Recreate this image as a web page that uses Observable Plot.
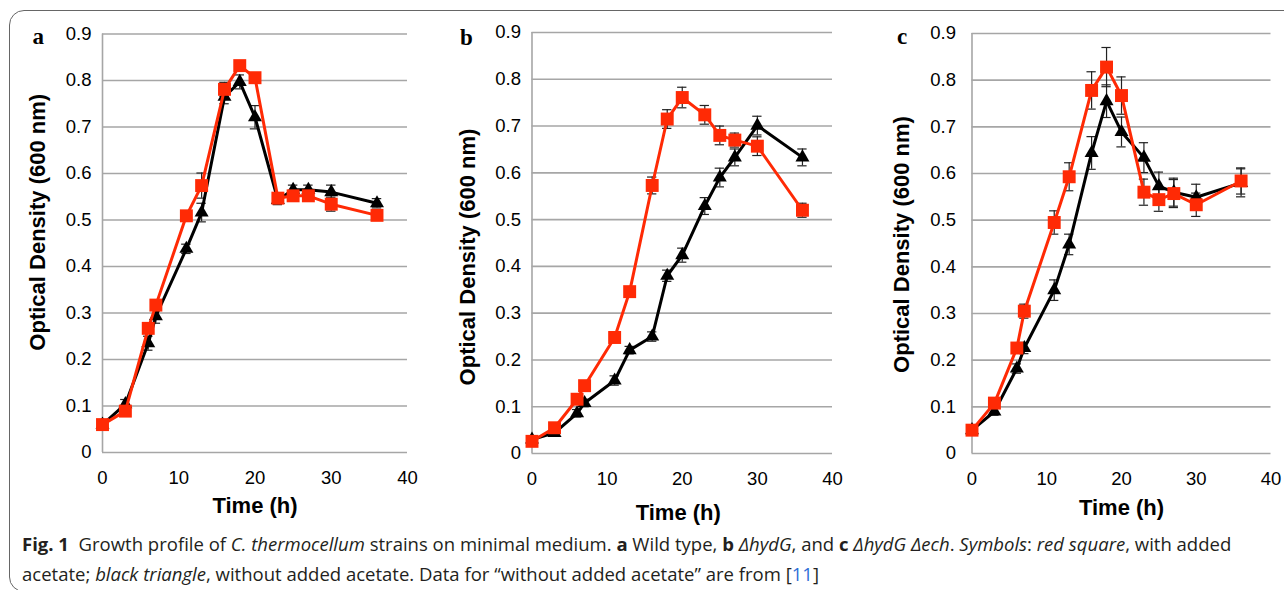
<!DOCTYPE html>
<html>
<head>
<meta charset="utf-8">
<script src="https://cdn.jsdelivr.net/npm/d3@7"></script>
<script src="https://cdn.jsdelivr.net/npm/@observablehq/plot@0.6"></script>
<style>
  html, body { margin: 0; padding: 0; background: #fff; }
  #root { position: relative; width: 1284px; height: 590px; overflow: hidden; background: #fff; }
  #frame { position: absolute; left: 9px; top: 10px; width: 1400px; height: 582px; box-sizing: border-box;
           border: 1.5px solid #666; border-radius: 15px; }
  .panel { position: absolute; top: 0; }
  #caption { position: absolute; left: 22px; top: 529px; font-family: "Open Sans", "Noto Sans", sans-serif;
             font-size: 18px; line-height: 30px; color: #231f20; white-space: nowrap; }
  #caption b { font-weight: 700; }
  #caption .ref { color: #2f6fd6; }
  #caption .line { display: inline-block; }
</style>
</head>
<body>
<div id="root">
  <div id="frame"></div>
  <div id="caption"><span class="line" id="cap1"><b>Fig. 1</b>&nbsp; Growth profile of <i>C. thermocellum</i> strains on minimal medium. <b>a</b> Wild type, <b>b</b> <i>ΔhydG</i>, and <b>c</b> <i>ΔhydG Δech</i>. <i>Symbols</i>: <i>red square</i>, with added</span><br><span class="line">acetate; <i>black triangle</i>, without added acetate. Data for “without added acetate” are from [<span class="ref">11</span>]</span></div>
</div>
<script>
// ---- data ----
const times = [0, 3, 6, 7, 11, 13, 16, 18, 20, 23, 25, 27, 30, 36];
const panelLabels = ["a", "b", "c"];

const aRed      = [0.060, 0.089, 0.267, 0.317, 0.509, 0.574, 0.781, 0.832, 0.806, 0.547, 0.552, 0.552, 0.534, 0.510];
const aRedErr   = [0.005, 0.010, 0.010, 0.010, 0.010, 0.027, 0.015, 0.010, 0.010, 0.010, 0.010, 0.010, 0.015, 0.010];
const aBlack    = [0.060, 0.104, 0.235, 0.293, 0.438, 0.516, 0.765, 0.797, 0.721, 0.543, 0.565, 0.565, 0.560, 0.536];
const aBlackErr = [0.005, 0.010, 0.015, 0.015, 0.010, 0.020, 0.015, 0.015, 0.025, 0.010, 0.010, 0.010, 0.015, 0.010];

const bRed      = [0.026, 0.055, 0.116, 0.145, 0.248, 0.346, 0.573, 0.715, 0.761, 0.724, 0.680, 0.670, 0.657, 0.520];
const bRedErr   = [0.005, 0.008, 0.010, 0.010, 0.010, 0.010, 0.018, 0.020, 0.022, 0.020, 0.020, 0.015, 0.020, 0.015];
const bBlack    = [0.030, 0.044, 0.086, 0.108, 0.156, 0.221, 0.250, 0.380, 0.424, 0.529, 0.590, 0.633, 0.701, 0.633];
const bBlackErr = [0.005, 0.005, 0.008, 0.008, 0.010, 0.008, 0.010, 0.012, 0.015, 0.018, 0.020, 0.018, 0.020, 0.018];

const cRed      = [0.050, 0.108, 0.226, 0.305, 0.495, 0.593, 0.778, 0.828, 0.767, 0.560, 0.544, 0.557, 0.533, 0.584];
const cRedErr   = [0.005, 0.010, 0.010, 0.015, 0.025, 0.030, 0.040, 0.042, 0.040, 0.028, 0.025, 0.030, 0.025, 0.028];
const cBlack    = [0.050, 0.090, 0.182, 0.226, 0.350, 0.448, 0.644, 0.755, 0.689, 0.634, 0.573, 0.560, 0.549, 0.580];
const cBlackErr = [0.005, 0.008, 0.010, 0.012, 0.022, 0.022, 0.035, 0.035, 0.032, 0.032, 0.030, 0.030, 0.028, 0.030];

const xTicks = [0, 10, 20, 30, 40];
const yTicks = [0, 0.1, 0.2, 0.3, 0.4, 0.5, 0.6, 0.7, 0.8, 0.9];
const yTickLabels = ["0", "0.1", "0.2", "0.3", "0.4", "0.5", "0.6", "0.7", "0.8", "0.9"];
const xTitle = "Time (h)";
const yTitle = "Optical Density (600 nm)";

// ---- layout ----
const layouts = [
  {left: 0,   width: 430, ml: 102,   mr: 23,   mt: 33.5, mb: 78,   yPad: 11, labDx: -70, labDy: -6,
   yTitleDx: -65, yTitleDy: -21, xTitleDx: 0,  xTitleDy: 53},
  {left: 430, width: 430, ml: 101.5, mr: 28,   mt: 32,   mb: 77,   yPad: 11, labDx: -72, labDy: -4,
   yTitleDx: -64, yTitleDy: 14,  xTitleDx: -4, xTitleDy: 59},
  {left: 860, width: 424, ml: 111.5, mr: 13.5, mt: 33,   mb: 77,   yPad: 16, labDx: -75, labDy: -6,
   yTitleDx: -70, yTitleDy: 1,   xTitleDx: 0,  xTitleDy: 54}
];
const H = 530;
const RED = "#ff2a05";

const series = [
  [aRed, aRedErr, aBlack, aBlackErr],
  [bRed, bRedErr, bBlack, bBlackErr],
  [cRed, cRedErr, cBlack, cBlackErr]
];

function rows(vals, errs) {
  return times.map((t, i) => ({t, v: vals[i], e: errs[i]}));
}

const root = document.getElementById("root");
series.forEach(([r, re, k, ke], p) => {
  const L = layouts[p];
  const red = rows(r, re), black = rows(k, ke);
  const capHalf = 0.62;
  const errMarks = (data) => [
    Plot.ruleX(data, {x: "t", y1: d => d.v - d.e, y2: d => d.v + d.e, stroke: "#222", strokeWidth: 1.2}),
    Plot.ruleY(data, {y: d => d.v + d.e, x1: d => d.t - capHalf, x2: d => d.t + capHalf, stroke: "#222", strokeWidth: 1.2}),
    Plot.ruleY(data, {y: d => d.v - d.e, x1: d => d.t - capHalf, x2: d => d.t + capHalf, stroke: "#222", strokeWidth: 1.2})
  ];
  const chart = Plot.plot({
    width: L.width, height: H,
    marginLeft: L.ml, marginRight: L.mr, marginTop: L.mt, marginBottom: L.mb,
    x: {domain: [0, 40], axis: null},
    y: {domain: [0, 0.9], axis: null},
    style: {fontFamily: "'Liberation Sans', Arial, sans-serif", color: "#000", background: "transparent"},
    marks: [
      Plot.gridY(yTicks, {stroke: "#a6a6a6", strokeOpacity: 1, strokeWidth: 1.6}),
      Plot.ruleX([0], {stroke: "#a6a6a6", strokeWidth: 1.6}),
      Plot.axisY({ticks: yTicks, tickSize: 0, tickPadding: L.yPad, fontSize: 18.5, label: null,
                  tickFormat: (d, i) => yTickLabels[i]}),
      Plot.axisX({ticks: xTicks, tickSize: 0, tickPadding: 18, fontSize: 18.5, label: null}),
      ...errMarks(black),
      ...errMarks(red),
      Plot.line(black, {x: "t", y: "v", stroke: "#000", strokeWidth: 3}),
      Plot.dot(black, {x: "t", y: "v", symbol: "triangle", r: 5.2, fill: "#000", stroke: "none"}),
      Plot.line(red, {x: "t", y: "v", stroke: RED, strokeWidth: 3}),
      Plot.dot(red, {x: "t", y: "v", symbol: "square", r: 7.3, fill: RED, stroke: "none"}),
      Plot.text([xTitle], {frameAnchor: "bottom", textAnchor: "middle", lineAnchor: "middle",
                 dx: L.xTitleDx, dy: L.xTitleDy, fontSize: 22, fontWeight: "bold"}),
      Plot.text([yTitle], {frameAnchor: "left", textAnchor: "middle", lineAnchor: "middle", rotate: -90,
                 dx: L.yTitleDx, dy: L.yTitleDy, fontSize: 22, fontWeight: "bold"}),
      Plot.text([panelLabels[p]], {frameAnchor: "top-left", dx: L.labDx, dy: L.labDy, fontSize: 23,
                 fontWeight: "bold", fontFamily: "'Liberation Serif', 'Times New Roman', serif"})
    ]
  });
  chart.classList.add("panel");
  chart.style.left = L.left + "px";
  root.appendChild(chart);
});

// fit caption so its first line spans the same width as in the figure
const cap = document.getElementById("caption");
const cap1 = document.getElementById("cap1");
const w = cap1.getBoundingClientRect().width;
const fs = parseFloat(getComputedStyle(cap).fontSize);
cap.style.fontSize = (fs * 1210 / w).toFixed(2) + "px";
</script>
</body>
</html>
